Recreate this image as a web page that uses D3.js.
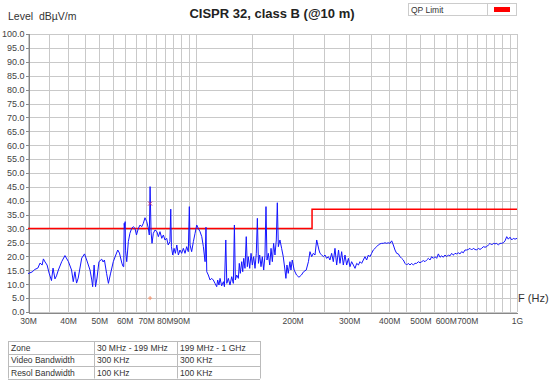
<!DOCTYPE html>
<html lang="en">
<head>
<meta charset="utf-8">
<title>CISPR 32, class B</title>
<script src="https://cdn.jsdelivr.net/npm/d3@7"></script>
<style>
  body { margin: 0; background: #fff; }
  svg { display: block; font-family: "Liberation Sans", Arial, sans-serif; }
  .axis text { fill: #444; font-size: 9px; }
  .xaxis text { font-size: 8.5px; }
  .axis path, .axis line { stroke: #888; shape-rendering: crispEdges; }
  .grid line { stroke: #c9c9c9; shape-rendering: crispEdges; }
  .tbl text { fill: #333; font-size: 8.5px; }
</style>
</head>
<body>
<script>
// measured trace (MHz, dBuV/m)
var freqMHz = [
  30.0, 30.9, 31.5, 32.2, 32.7, 33.2, 33.5, 33.9, 34.4, 34.9, 35.5, 35.9, 36.4, 36.8, 37.3,
  38.2, 39.1, 40.1, 41.0, 41.5, 42.0, 42.5, 43.0, 44.1, 45.0, 45.7, 46.8, 47.4, 47.7, 48.2,
  48.7, 49.2, 49.9, 50.9, 51.4, 51.9, 52.7, 53.4, 54.2, 55.3, 56.3, 57.1, 57.8, 58.8, 59.3,
  59.6, 59.8, 60.0, 60.2, 60.4, 60.9, 61.6,
  62.3, 63.1, 63.8, 64.6, 65.3, 66.2, 67.0, 67.8, 68.6, 69.4, 70.3, 71.1, 71.6, 72.0, 72.5,
  73.0, 73.7, 74.6, 75.6, 76.4, 77.3, 78.3, 79.2, 80.1, 81.1, 82.0, 83.0, 83.5, 83.9, 84.7,
  85.5, 86.3, 87.2, 88.2, 89.2, 90.3, 91.4, 92.5, 93.6, 94.7, 95.4, 95.9, 97.0, 98.2, 99.4,
  100.6, 101.7, 103.0, 104.3, 105.5, 106.8, 107.5, 108.1, 109.3, 110.7,
  112.0, 113.3, 114.7, 116.1, 116.9, 118.0, 118.9, 120.3, 121.8, 122.7, 123.9, 124.8, 126.2,
  127.7, 129.3, 130.8, 131.8, 132.7, 134.0, 135.6, 136.5, 137.5, 138.9, 139.9, 140.9, 142.2,
  143.5, 144.6, 145.6, 147.1, 148.5, 149.9, 151.3, 152.8, 154.2, 155.4, 156.6, 158.0, 159.5,
  161.0, 162.6, 164.1, 165.3, 166.5, 168.1, 169.8, 171.4, 173.0, 174.6, 176.3, 178.0, 179.3,
  180.6, 182.7, 184.9, 187.1, 189.4, 190.7, 192.1, 193.9, 196.3, 197.7, 199.6, 202.3, 205.8,
  209.4, 213.1, 216.5, 220.6, 224.1, 226.6, 229.4, 232.1, 234.9, 237.8, 241.7, 243.5, 246.5,
  249.5, 252.4, 255.4, 258.6, 261.5, 264.7, 267.9, 271.1, 274.4, 278.1, 281.0, 284.4, 287.8,
  291.3, 294.8, 298.5, 301.9, 305.5, 309.3, 313.0, 316.8, 320.7, 324.3, 328.2, 332.2, 336.2,
  340.2, 344.5, 348.4, 352.6, 356.8, 361.2, 365.6, 369.8, 374.3, 378.9, 383.5, 388.0, 392.6,
  397.3, 402.2, 407.1, 412.0, 416.9, 421.9, 427.0, 432.1, 437.3, 442.6, 447.9, 453.3, 458.7,
  464.2, 469.8, 475.4, 481.2, 487.0, 492.9, 498.8, 504.8, 510.9, 517.0, 523.2, 529.5, 535.8,
  542.3, 548.8, 555.4, 562.1, 568.9, 575.7, 582.7, 589.6, 596.7, 603.9, 611.2, 618.5, 625.9,
  633.5, 641.1, 648.8, 656.6, 664.4, 672.4, 680.4, 688.6, 696.9, 705.2, 713.8, 722.3, 731.0,
  739.9, 748.8, 757.7, 767.0, 776.2, 785.5, 795.0, 804.6, 814.1, 824.0, 834.0, 843.9, 854.2,
  864.5, 874.6, 885.3, 896.0, 906.8, 917.8, 928.9, 939.6, 951.1, 962.6, 974.1, 985.9, 1000
];
var levelDb = [
  13.8, 14.4, 15.3, 15.8, 17.6, 16.9, 19.1, 18.0, 16.9, 14.0, 11.3, 15.8, 11.9, 13.0, 15.1,
  18.1, 20.3, 18.1, 15.1, 10.9, 14.5, 10.4, 12.2, 19.4, 20.9, 18.7, 15.1, 11.5, 9.1, 16.9,
  9.1, 12.2, 18.1, 19.0, 18.0, 18.7, 13.9, 10.3, 13.7, 18.1, 20.5, 22.3, 21.2, 17.6, 16.4,
  16.3, 31.9, 30.2, 32.5, 22.0, 18.1, 25.3,
  28.3, 30.1, 30.7, 30.1, 27.7, 30.1, 31.3, 30.7, 31.9, 33.9, 32.5, 30.1, 27.7, 45.1, 28.9,
  24.7, 28.3, 29.5, 28.9, 27.1, 28.9, 26.5, 27.7, 25.9, 26.5, 24.1, 25.3, 37.0, 23.5, 20.5,
  22.9, 21.1, 24.1, 20.5, 22.3, 21.1, 22.9, 21.1, 23.5, 21.7, 37.9, 24.1, 21.7, 25.3, 28.3,
  31.3, 30.1, 28.9, 27.1, 23.5, 18.1, 30.5, 14.5, 13.3, 11.5,
  12.1, 11.5, 10.3, 9.1, 11.5, 9.7, 12.1, 9.4, 10.9, 9.1, 25.9, 10.3, 12.1,
  9.7, 12.7, 10.3, 31.3, 11.5, 13.3, 12.1, 17.5, 13.9, 18.1, 14.5, 19.3, 15.7,
  27.1, 16.3, 19.9, 15.7, 21.1, 16.9, 19.9, 15.7, 21.1, 33.7, 17.5, 20.5, 16.3,
  19.9, 15.1, 20.5, 37.9, 18.7, 21.1, 16.9, 22.9, 18.1, 24.7, 20.5, 25.9, 39.3,
  23.5, 25.9, 22.9, 19.9, 15.1, 12.1, 16.9, 13.9, 18.1, 15.1, 18.7, 15.1, 13.3,
  12.5, 13.3, 14.5, 15.1, 18.1, 21.7, 19.9, 21.1, 20.5, 25.9, 22.3, 21.1, 20.5,
  19.9, 20.5, 19.3, 19.9, 18.7, 21.1, 18.1, 22.9, 16.9, 22.3, 17.5, 21.7, 16.9,
  20.5, 16.9, 19.3, 16.3, 18.1, 16.9, 15.7, 17.5, 16.9, 18.1, 17.5, 18.7, 19.9,
  18.7, 20.5, 19.9, 21.1, 22.3, 22.9, 23.5, 24.1, 24.5, 24.7, 24.7, 24.9, 24.7,
  24.9, 24.7, 25.6, 24.1, 22.3, 21.1, 20.9, 19.9, 19.3, 18.7, 17.5, 16.9, 17.5,
  16.9, 17.5, 16.9, 17.5, 17.5, 18.1, 17.7, 18.1, 18.5, 18.1, 18.7, 19.3, 18.7,
  19.9, 19.3, 19.9, 19.3, 20.9, 19.7, 20.2, 19.7, 20.5, 19.9, 20.5, 20.2, 21.1,
  20.5, 21.1, 20.9, 21.3, 20.9, 21.7, 21.3, 22.3, 22.3, 22.5, 22.9, 22.3, 22.9,
  22.5, 22.3, 22.9, 22.5, 22.9, 23.5, 23.3, 23.5, 24.1, 24.7, 24.1, 24.7, 24.5,
  24.7, 24.1, 24.7, 24.7, 24.9, 25.6, 27.1, 26.2, 26.9, 25.9, 26.5, 26.2, 26.5
];

// QP limit (step at 230 MHz)
var limitFreq = [30, 230, 230, 1000];
var limitDb = [30, 30, 37, 37];

// markers
var markerFreq = [72.0];
var markerQP = [39.0];
var markerAV = [5.0];

var yTicks = [0, 5, 10, 15, 20, 25, 30, 35, 40, 45, 50, 55, 60, 65, 70, 75, 80, 85, 90, 95, 100];
var xTicks = [30, 40, 50, 60, 70, 80, 90, 200, 300, 400, 500, 600, 700, 1000];
var xTickLabels = ["30M", "40M", "50M", "60M", "70M", "80M", "90M", "200M", "300M", "400M", "500M", "600M", "700M", "1G"];

var tableRows = [
  ["Zone", "30 MHz - 199 MHz", "199 MHz - 1 GHz"],
  ["Video Bandwidth", "300 KHz", "300 KHz"],
  ["Resol Bandwidth", "100 KHz", "100 KHz"]
];

var w = 550, h = 383;
var plotL = 28, plotR = 517, plotT = 34, plotB = 312;

var svg = d3.select("body").append("svg")
  .attr("width", w)
  .attr("height", h);

var x = d3.scaleLog().domain([30, 1000]).range([plotL, plotR]);
var y = d3.scaleLinear().domain([0, 100]).range([plotB, plotT]);

// grid
var vGrid = d3.range(30, 100, 5).concat(d3.range(100, 1001, 50));
var grid = svg.append("g").attr("class", "grid");
grid.selectAll(".h").data(yTicks).enter().append("line")
  .attr("x1", plotL).attr("x2", plotR)
  .attr("y1", function(d) { return Math.round(y(d)) + 0.5; })
  .attr("y2", function(d) { return Math.round(y(d)) + 0.5; });
grid.selectAll(".v").data(vGrid).enter().append("line")
  .attr("y1", plotT).attr("y2", plotB)
  .attr("x1", function(d) { return Math.round(x(d)) + 0.5; })
  .attr("x2", function(d) { return Math.round(x(d)) + 0.5; });

// axes
var yAxis = d3.axisLeft(y).tickValues(yTicks).tickSize(3).tickPadding(1)
  .tickFormat(d3.format(".1f"));
svg.append("g").attr("class", "axis")
  .attr("transform", "translate(" + (plotL + 0.5) + ",0)")
  .call(yAxis);

var xAxis = d3.axisBottom(x).tickValues(xTicks).tickSize(0).tickPadding(5)
  .tickFormat(function(d, i) { return xTickLabels[i]; });
svg.append("g").attr("class", "axis xaxis")
  .attr("transform", "translate(0," + (plotB + 0.5) + ")")
  .call(xAxis);
svg.selectAll(".axis .domain").attr("stroke", "#999");

// limit line
var pts = limitFreq.map(function(f, i) { return [f, limitDb[i]]; });
svg.append("path")
  .datum(pts)
  .attr("fill", "none")
  .attr("stroke", "#f00")
  .attr("stroke-width", 1.5)
  .attr("d", d3.line().x(function(d) { return x(d[0]); }).y(function(d) { return y(d[1]); }));

// trace
var trace = freqMHz.map(function(f, i) { return [f, levelDb[i]]; });
svg.append("path")
  .datum(trace)
  .attr("fill", "none")
  .attr("stroke", "#1414ff")
  .attr("stroke-width", 1)
  .attr("stroke-linejoin", "round")
  .attr("d", d3.line().x(function(d) { return x(d[0]); }).y(function(d) { return y(d[1]); }));

// markers
markerFreq.forEach(function(f, i) {
  var mx = x(f), my = y(markerQP[i]), ma = y(markerAV[i]);
  svg.append("path")
    .attr("d", "M" + (mx - 2) + "," + (my - 2) + "L" + (mx + 2) + "," + (my + 2) +
               "M" + (mx + 2) + "," + (my - 2) + "L" + (mx - 2) + "," + (my + 2))
    .attr("stroke", "#c0307a").attr("stroke-width", 1).attr("fill", "none");
  svg.append("path")
    .attr("d", "M" + (mx - 2) + "," + ma + "L" + (mx + 2) + "," + ma +
               "M" + mx + "," + (ma - 2) + "L" + mx + "," + (ma + 2))
    .attr("stroke", "#f0906a").attr("stroke-width", 1).attr("fill", "none");
});

// title and labels
svg.append("text")
  .attr("x", 272).attr("y", 18)
  .attr("text-anchor", "middle")
  .attr("font-size", "13px").attr("font-weight", "bold").attr("fill", "#222")
  .text("CISPR 32, class B (@10 m)");

svg.append("text")
  .attr("x", 8).attr("y", 20)
  .attr("font-size", "10.5px").attr("fill", "#333")
  .attr("xml:space", "preserve")
  .text("Level  dB\u00b5V/m");

svg.append("text")
  .attr("x", 518).attr("y", 302)
  .attr("font-size", "11px").attr("fill", "#333")
  .text("F (Hz)");

// legend
var lg = svg.append("g");
lg.append("rect").attr("x", 408.5).attr("y", 3.5).attr("width", 108).attr("height", 12)
  .attr("fill", "#fff").attr("stroke", "#ccc");
lg.append("line").attr("x1", 487.5).attr("x2", 487.5).attr("y1", 3.5).attr("y2", 15.5)
  .attr("stroke", "#ccc");
lg.append("text").attr("x", 411).attr("y", 12.5)
  .attr("font-size", "8.5px").attr("fill", "#333").text("QP Limit");
lg.append("rect").attr("x", 494).attr("y", 7).attr("width", 16).attr("height", 5)
  .attr("fill", "#f00");

// table
var colX = [8, 94, 177, 260];
var rowY = [341, 353.5, 366, 378.5];
var tbl = svg.append("g").attr("class", "tbl");
rowY.forEach(function(ry) {
  tbl.append("line").attr("x1", colX[0]).attr("x2", colX[3])
    .attr("y1", Math.round(ry) + 0.5).attr("y2", Math.round(ry) + 0.5)
    .attr("stroke", "#bbb");
});
colX.forEach(function(cx) {
  tbl.append("line").attr("y1", rowY[0]).attr("y2", rowY[3])
    .attr("x1", cx + 0.5).attr("x2", cx + 0.5)
    .attr("stroke", "#bbb");
});
tableRows.forEach(function(row, r) {
  row.forEach(function(cell, c) {
    tbl.append("text")
      .attr("x", colX[c] + 3)
      .attr("y", rowY[r] + 9.5)
      .text(cell);
  });
});
</script>
</body>
</html>
